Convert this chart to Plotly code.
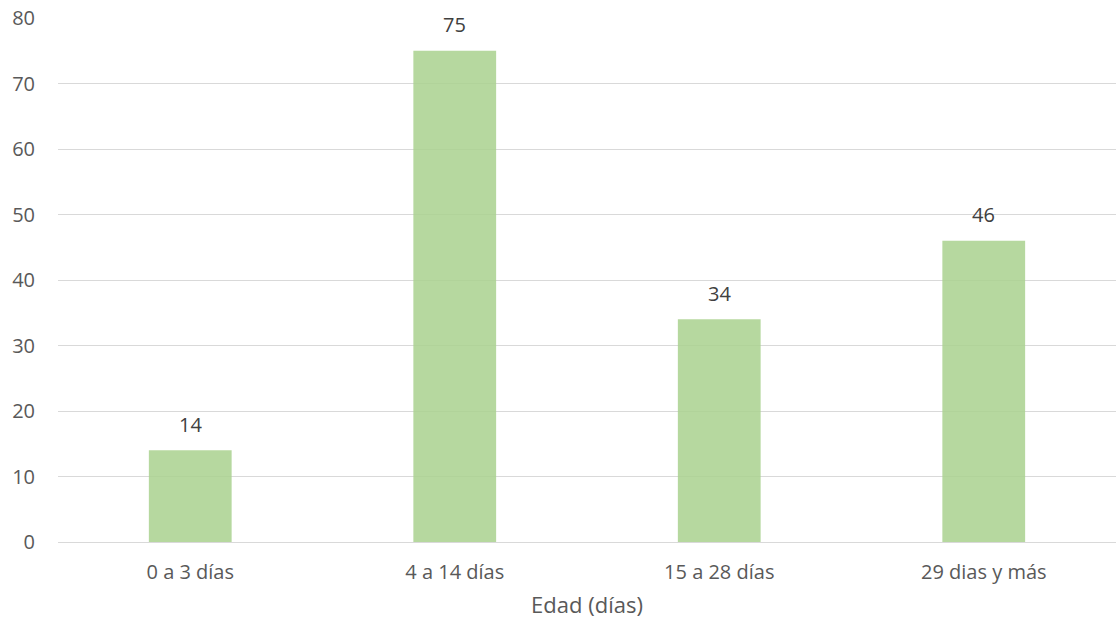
import plotly.graph_objects as go

categorias = ["0 a 3 días", "4 a 14 días", "15 a 28 días", "29 dias y más"]
valores = [14, 75, 34, 46]

fig = go.Figure()
fig.add_trace(go.Bar(
    x=categorias,
    y=valores,
    width=0.313,
    marker=dict(color="rgba(169,209,142,0.85)", line=dict(width=0)),
    hoverinfo="skip",
))

# Value labels above each bar
for c, v in zip(categorias, valores):
    fig.add_annotation(
        x=c, y=v, text=str(v), showarrow=False,
        yanchor="middle", yshift=26,
        font=dict(family="Open Sans", size=20, color="#404040"),
    )

fig.update_layout(
    width=1116, height=626,
    margin=dict(l=58, r=0, t=18, b=84),
    paper_bgcolor="white", plot_bgcolor="white",
    showlegend=False,
    font=dict(family="Open Sans", size=20, color="#595959"),
    xaxis=dict(
        title=dict(text="Edad (días)", font=dict(size=22, color="#595959"), standoff=13),
        showgrid=False, showline=False, zeroline=False,
        ticks="", ticklabelstandoff=16, tickfont=dict(size=20),
        range=[-0.5, 3.5],
    ),
    yaxis=dict(
        range=[0, 80], dtick=10,
        showgrid=True, gridcolor="#d9d9d9", gridwidth=1.3,
        zeroline=True, zerolinecolor="#d9d9d9", zerolinewidth=1.3,
        showline=False, ticks="", ticklabelstandoff=22,
    ),
)

fig.write_html("out.html")
